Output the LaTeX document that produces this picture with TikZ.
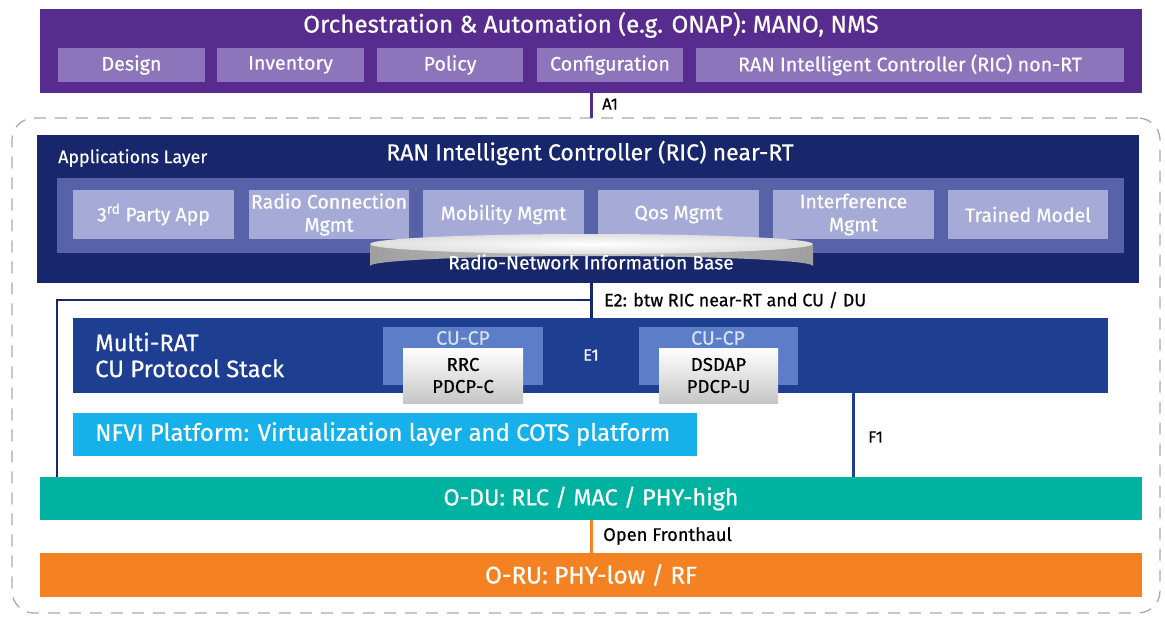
\documentclass[tikz,border=0pt]{standalone}
\usepackage{fontspec}
\setmainfont{Fira Sans}[FakeBold=0.5]
\definecolor{orchC}{RGB}{88,44,142}
\definecolor{orchSub}{RGB}{141,117,187}
\definecolor{ricC}{RGB}{24,38,108}
\definecolor{panelC}{RGB}{88,98,168}
\definecolor{appC}{RGB}{166,170,214}
\definecolor{cuC}{RGB}{30,62,145}
\definecolor{cucpC}{RGB}{92,126,200}
\definecolor{nfviC}{RGB}{22,176,234}
\definecolor{oduC}{RGB}{0,178,160}
\definecolor{oruC}{RGB}{245,130,34}
\definecolor{dashC}{RGB}{170,170,170}
\definecolor{cpText}{RGB}{215,225,245}
\newcommand{\fs}[2]{\fontsize{#1}{#2}\selectfont}
\begin{document}
\begin{tikzpicture}[x=1pt,y=-1pt,
  box/.style={draw=none,inner sep=0pt,outer sep=0pt,anchor=north west,text=white,align=center},
  sub/.style={box,fill=orchSub,minimum height=34pt,font=\fs{19.7}{21}},
  app/.style={box,fill=appC,minimum width=160pt,minimum height=49pt,font=\fs{19.5}{23}},
  cucp/.style={box,fill=cucpC,minimum width=160pt,minimum height=58pt},
  greybox/.style={box,text=black,top color=white,bottom color=gray!45,minimum width=120pt,minimum height=55pt,font=\fs{18.6}{22}},
  lbl/.style={inner sep=0pt,anchor=west,text=black},
  link/.style={line width=3pt}
]
\useasboundingbox (0,0) rectangle (1165,634);
\fill[white] (0,0) rectangle (1165,634);

% dashed RAN boundary
\node[draw=dashC,line width=1.3pt,dash pattern=on 12pt off 9pt,rounded corners=22pt,
  inner sep=0pt,outer sep=0pt,anchor=north west,minimum width=1148pt,minimum height=495pt] (ran) at (12,118) {};

% orchestration
\node[box,fill=orchC,minimum width=1102pt,minimum height=84pt] (orch) at (40,9) {};
\node[inner sep=0pt,text=white,font=\fs{24.2}{26}] (orchT) at (591,25) {Orchestration \& Automation (e.g. ONAP): MANO, NMS};
\node[sub,minimum width=147pt] (design) at (58,48) {Design};
\node[sub,minimum width=147pt] (inv) at (217,48) {Inventory};
\node[sub,minimum width=146pt] (policy) at (377,48) {Policy};
\node[sub,minimum width=146pt] (conf) at (537,48) {Configuration};
\node[sub,minimum width=428pt] (nonrt) at (696,48) {RAN Intelligent Controller (RIC) non-RT};

% connectors
\draw[link,color=orchC] (orch.south) -- (orch.south |- ran.north);
\node[lbl,font=\fs{16.5}{18}] (a1) at (602,104) {A1};

% RIC near-RT
\node[box,fill=ricC,minimum width=1102pt,minimum height=148pt] (ric) at (37,135) {};
\node[inner sep=0pt,anchor=west,text=white,font=\fs{17.9}{19}] (appl) at (58,158) {Applications Layer};
\node[inner sep=0pt,text=white,font=\fs{23}{25}] (ricT) at (590,153) {RAN Intelligent Controller (RIC) near-RT};
\node[box,fill=panelC,minimum width=1067pt,minimum height=75pt] (panel) at (57,178) {};
\node[app,minimum width=161pt] (a3p) at (73,190) {3\textsuperscript{rd} Party App};
\node[app,minimum width=160pt] (arc) at (249,190) {Radio Connection\\Mgmt};
\node[app,minimum width=161pt] (amm) at (423,190) {Mobility Mgmt};
\node[app,minimum width=161pt] (aqos) at (598,190) {Qos Mgmt};
\node[app,minimum width=161pt] (aint) at (773,190) {Interference\\Mgmt};
\node[app,minimum width=160pt] (atm) at (948,190) {Trained Model};

% RNIB cylinder
\shade[left color=gray!75,right color=gray!75,middle color=gray!48]
  (370,245) -- (370,266) arc[start angle=180,end angle=0,x radius=221.5pt,y radius=10pt] -- (813,245) -- cycle;
\shade[inner color=white,outer color=gray!25] (591.5,244) ellipse[x radius=221.5pt,y radius=10pt];
\node[inner sep=0pt,text=white,font=\fs{19.2}{20}] (rnib) at (591,262) {Radio-Network Information Base};

% E2
\coordinate (e2j) at (591,300);
\coordinate (duin) at (57,478);
\draw[link,color=ricC] (orch.south |- ric.south) -- (e2j);
\draw[link,color=ricC,line width=2.5pt] (e2j) -| (duin);
\node[lbl,font=\fs{17.9}{19}] (e2) at (604,300) {E2: btw RIC near-RT and CU / DU};

% CU protocol stack
\node[box,fill=cuC,minimum width=1035pt,minimum height=75pt] (cu) at (73,318) {};
\draw[link,color=ricC] (e2j) -- (e2j |- cu.north);
\node[inner sep=0pt,anchor=west,text=white,align=left,font=\fs{23.8}{26}] (mrat) at (95,355) {Multi-RAT\\CU Protocol Stack};
\node[cucp,minimum width=160pt] (cp1) at (383,327) {};
\node[inner sep=0pt,text=cpText,font=\fs{19.5}{20}] (cp1t) at (463,338) {CU-CP};
\node[greybox] (rrc) at (403,348) {RRC\\PDCP-C};
\node[inner sep=0pt,text=white,font=\fs{16.5}{18}] (e1) at (591,355) {E1};
\node[cucp,minimum width=159pt] (cp2) at (639,327) {};
\node[inner sep=0pt,text=cpText,font=\fs{19.5}{20}] (cp2t) at (718,338) {CU-CP};
\node[greybox,minimum width=119pt] (dsdap) at (659,348) {DSDAP\\PDCP-U};

% NFVI
\node[box,fill=nfviC,minimum width=624pt,minimum height=43pt] (nfvi) at (73,413) {};
\node[inner sep=0pt,anchor=west,text=white,font=\fs{23.9}{26}] (nfviT) at (95,434) {NFVI Platform: Virtualization layer and COTS platform};

% O-DU
\node[box,fill=oduC,minimum width=1102pt,minimum height=43pt,font=\fs{23.3}{25}] (odu) at (40,477) {O-DU: RLC / MAC / PHY-high};
\coordinate (f1x) at (853,0);
\draw[link,color=cuC] (cu.south -| f1x) -- (odu.north -| f1x);
\node[lbl,font=\fs{16.5}{18}] (f1) at (868,437) {F1};

% O-RU
\node[box,fill=oruC,minimum width=1102pt,minimum height=44pt,font=\fs{24.2}{26}] (oru) at (40,553) {O-RU: PHY-low / RF};
\draw[link,color=oruC] (odu.south) -- (oru.north);
\node[lbl,font=\fs{18.3}{19}] (ofh) at (603,536) {Open Fronthaul};
\end{tikzpicture}
\end{document}
